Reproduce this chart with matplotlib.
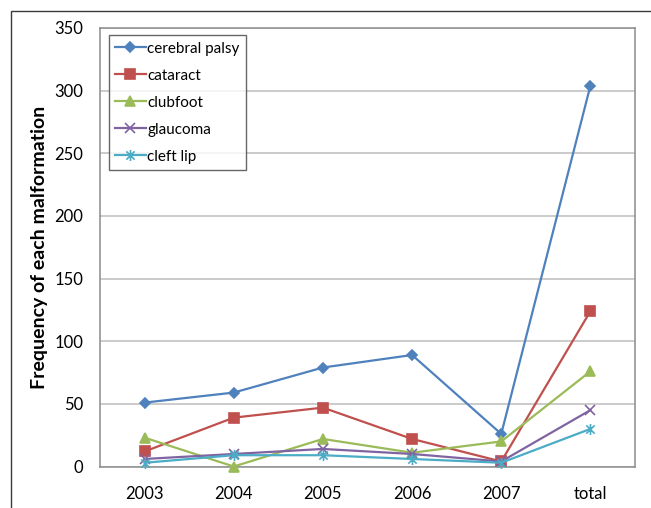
import matplotlib
matplotlib.use("Agg")
import numpy as np
import matplotlib.pyplot as plt
from matplotlib.path import Path
from matplotlib.patches import Rectangle

plt.rcParams["font.family"] = ["Lato", "DejaVu Sans"]

years = ['2003', '2004', '2005', '2006', '2007', 'total']
cerebral_palsy = [51, 59, 79, 89, 26, 304]
cataract = [12, 39, 47, 22, 4, 124]
clubfoot = [23, 0, 22, 11, 20, 76]
glaucoma = [6, 10, 14, 10, 4, 45]
cleft_lip = [3, 9, 9, 6, 3, 30]

# Excel style star: cross plus vertical bar
star = Path([(0, -1), (0, 1), (-0.75, -0.75), (0.75, 0.75), (-0.75, 0.75), (0.75, -0.75)],
            [Path.MOVETO, Path.LINETO, Path.MOVETO, Path.LINETO, Path.MOVETO, Path.LINETO])

series = [
    ('cerebral palsy', cerebral_palsy, '#4F81BD', 'D', 5),
    ('cataract', cataract, '#C0504D', 's', 7.5),
    ('clubfoot', clubfoot, '#9BBB59', '^', 7.5),
    ('glaucoma', glaucoma, '#8064A2', 'x', 7),
    ('cleft lip', cleft_lip, '#4BACC6', star, 8),
]

fig = plt.figure(figsize=(6.51, 5.08), dpi=100)
ax = fig.add_axes([100/651, 41.5/508, 535/651, 438.5/508])

x = np.arange(len(years))
for name, vals, col, mk, ms in series:
    ax.plot(x, vals, color=col, marker=mk, markersize=ms, linewidth=1.6,
            markeredgewidth=1.2, label=name, clip_on=False, zorder=3)

ax.set_xlim(-0.5, len(years) - 0.5)
ax.set_ylim(0, 350)
ax.set_yticks(range(0, 351, 50))
ax.set_xticks(x)
ax.set_xticklabels(years)
ax.tick_params(axis='both', length=0, labelsize=12)
ax.tick_params(axis='y', pad=12)
ax.tick_params(axis='x', pad=14)
ax.yaxis.grid(True, color='#bdbdbd', linewidth=1.1)
ax.set_axisbelow(True)
for s in ax.spines.values():
    s.set_color('#8c8c8c')
    s.set_linewidth(1.1)

ax.set_ylabel('Frequency of each malformation', fontsize=14, fontweight='bold', labelpad=5)

leg = ax.legend(loc='upper left', bbox_to_anchor=(0.017, 0.983), fontsize=11,
                frameon=True, fancybox=False, borderpad=0.4, labelspacing=0.85,
                handlelength=2.0, handletextpad=0.1, borderaxespad=0)
leg.get_frame().set_edgecolor('#404040')
leg.get_frame().set_linewidth(1.0)

# outer chart frame
fig.patches.append(Rectangle((11/651, -0.1), 1.0, 1.1 - 11/508, transform=fig.transFigure,
                             fill=False, edgecolor='#3a3a3a', linewidth=1.0))

fig.savefig('out.png', dpi=100)
